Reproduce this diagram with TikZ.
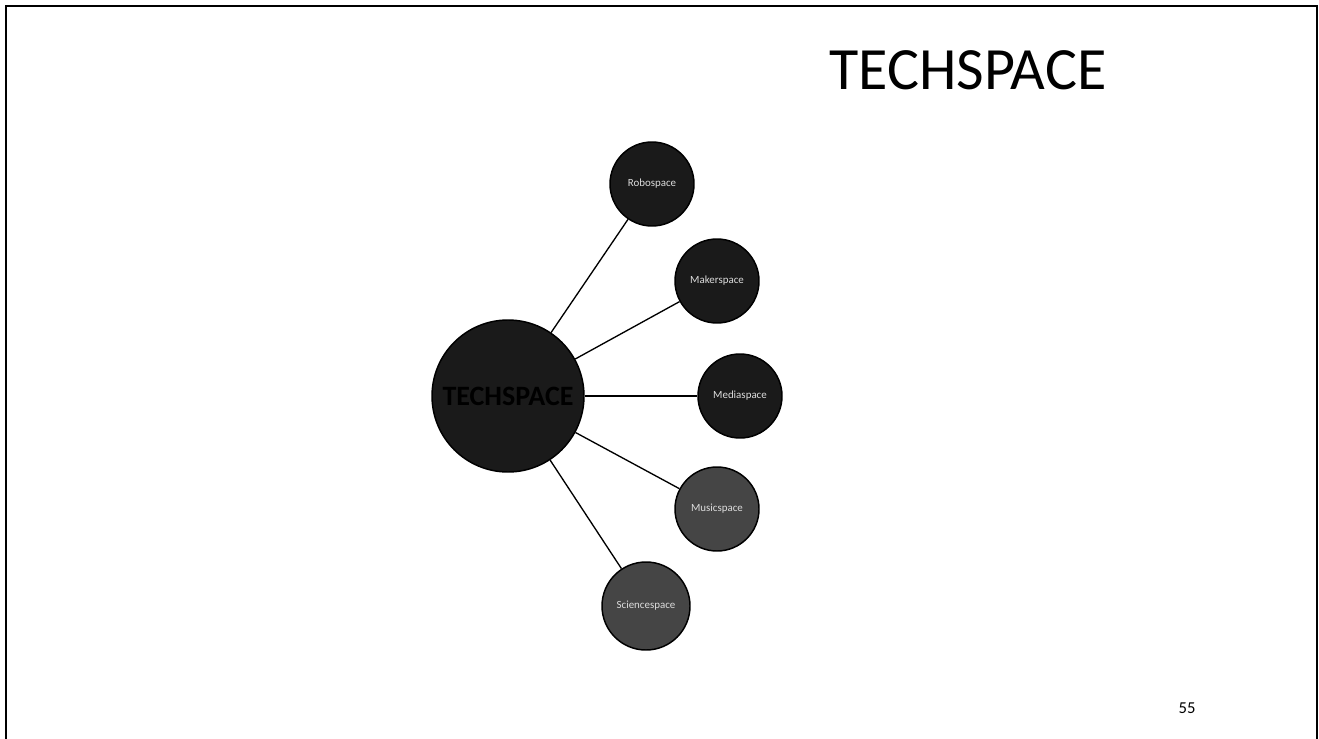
\documentclass[tikz,border=0pt]{standalone}
\usepackage{fontspec}
\setmainfont{Carlito}
\definecolor{darkfill}{HTML}{1A1A1A}
\definecolor{greyfill}{HTML}{454545}
\definecolor{labelgrey}{HTML}{DDDDDD}
\tikzset{
    hub/.style={circle, draw=black, line width=1.1pt, fill=darkfill, minimum size=114pt, inner sep=0pt, font=\bfseries\fontsize{21}{24}\selectfont, text=black},
    spoke/.style={circle, draw=black, line width=1.1pt, fill=darkfill, minimum size=63pt, inner sep=0pt, font=\fontsize{8.2}{10}\selectfont, text=labelgrey},
    link/.style={black, line width=1pt}
}
\begin{document}
\begin{tikzpicture}[x=0.75pt, y=-0.75pt]
    \useasboundingbox (0, 0) rectangle (1319, 738);
    \fill[white] (0, 0) rectangle (1319, 738);
    \draw[black, line width=1.5pt] (6, 760) -- (6, 6) -- (1317, 6) -- (1317, 760);

    \node[font=\fontsize{45}{54}\selectfont] (title) at (968, 70) {TECHSPACE};
    \node[font=\fontsize{12.5}{15}\selectfont] (pagenum) at (1187, 708) {55};

    \node[hub] (tech) at (508, 396) {TECHSPACE};
    \node[spoke] (robo) at (652, 184) {Robospace};
    \node[spoke] (maker) at (717, 281) {Makerspace};
    \node[spoke] (media) at (740, 396) {Mediaspace};
    \node[spoke, fill=greyfill] (music) at (717, 509) {Musicspace};
    \node[spoke, fill=greyfill, minimum size=66pt] (science) at (646, 606) {Sciencespace};

    \draw[link] (tech) -- (robo);
    \draw[link] (tech) -- (maker);
    \draw[link] (tech) -- (media);
    \draw[link] (tech) -- (music);
    \draw[link] (tech) -- (science);
\end{tikzpicture}
\end{document}
